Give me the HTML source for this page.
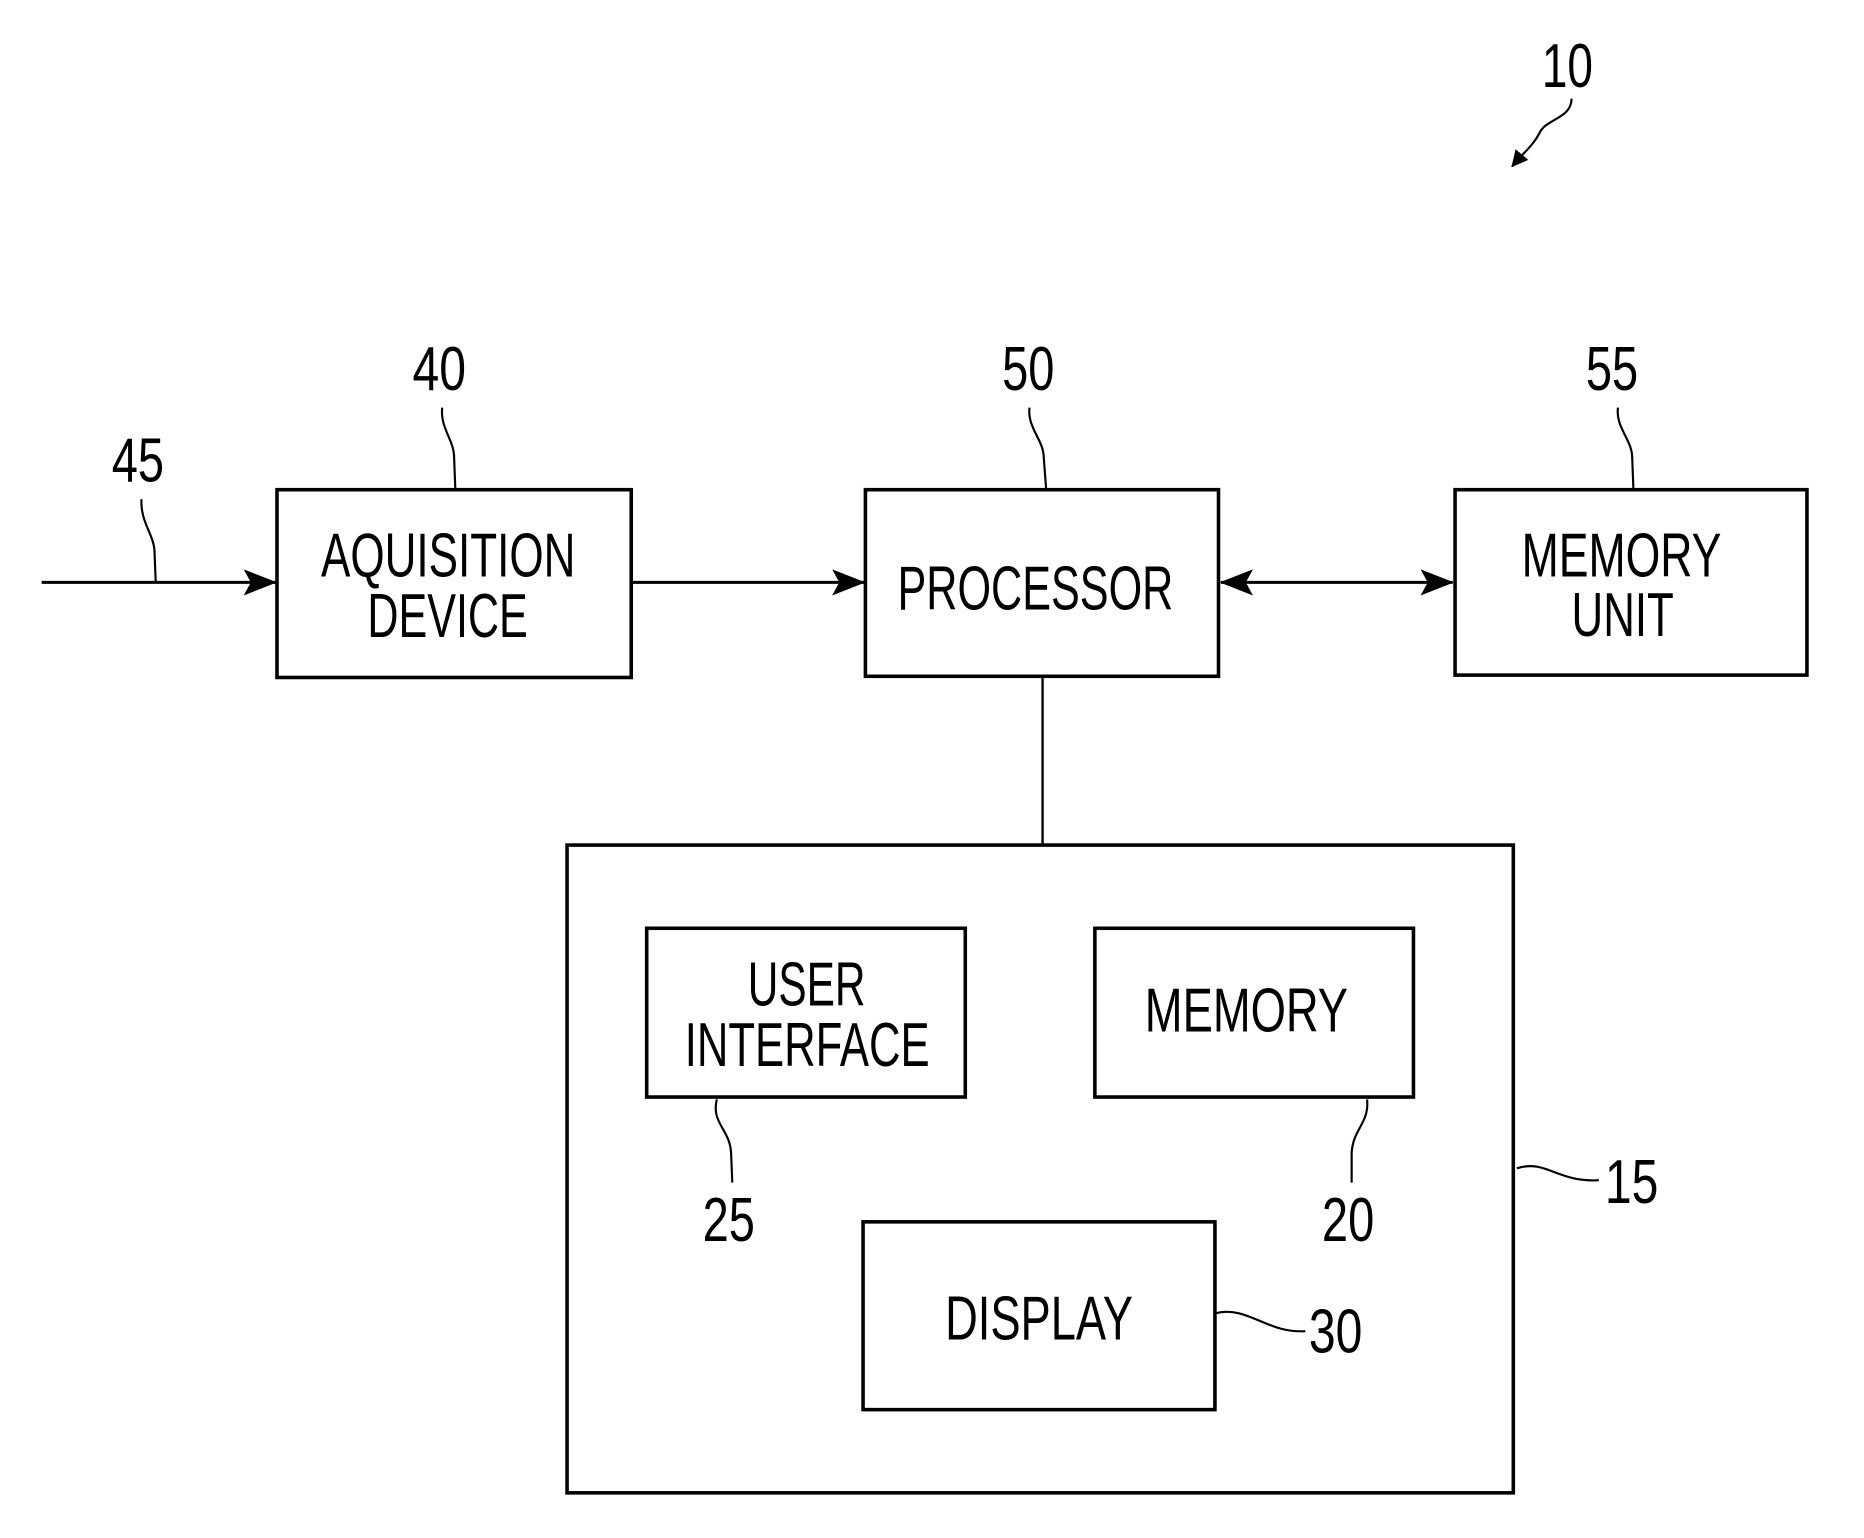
<!DOCTYPE html>
<html><head><meta charset="utf-8"><style>html,body{margin:0;padding:0;background:#fff}svg{display:block}</style></head><body>
<svg width="1864" height="1538" viewBox="0 0 1568 1294" preserveAspectRatio="none" xmlns="http://www.w3.org/2000/svg">
<defs><marker id="a" markerWidth="14" markerHeight="14" refX="13" refY="7" orient="auto" markerUnits="userSpaceOnUse"><path d="M0,0 L14,7 L0,14 Z" fill="#000"/></marker>
<marker id="b" markerWidth="28" markerHeight="22" refX="27" refY="11" orient="auto-start-reverse" markerUnits="userSpaceOnUse"><path d="M0,0 L28,11 L0,22 L6,11 Z" fill="#000"/></marker></defs>
<g fill="none" stroke="#000">
<rect x="233" y="412" width="298" height="158" stroke-width="3"/>
<rect x="728" y="412" width="297" height="157" stroke-width="3"/>
<rect x="1224" y="412" width="296" height="156" stroke-width="3"/>
<rect x="477" y="711" width="796" height="545" stroke-width="3"/>
<rect x="544" y="781" width="268" height="142" stroke-width="3"/>
<rect x="921" y="781" width="268" height="142" stroke-width="3"/>
<rect x="726" y="1028" width="296" height="158" stroke-width="3"/>
<line x1="35" y1="490" x2="232" y2="490" stroke-width="2.5" marker-end="url(#b)"/>
<line x1="531" y1="490" x2="727" y2="490" stroke-width="2.5" marker-end="url(#b)"/>
<line x1="1027" y1="490" x2="1222" y2="490" stroke-width="2.5" marker-start="url(#b)" marker-end="url(#b)"/>
<line x1="877" y1="570" x2="877" y2="711" stroke-width="2"/>
<g stroke-width="1.8">
<path d="M1322,83 C1322,100 1300,100 1295,112 C1290,122 1282,128 1272,140" marker-end="url(#a)"/>
<path d="M372,343 C370,360 382,370 382,385 L383,411"/>
<path d="M866,343 C864,360 878,370 878,385 L880,411"/>
<path d="M1361,343 C1359,360 1373,370 1373,385 L1374,411"/>
<path d="M119,420 C118,440 130,450 130,465 L131,490"/>
<path d="M603,925 C598,945 614,950 615,970 L616,995"/>
<path d="M1150,925 C1152,945 1138,950 1137,970 L1137,995"/>
<path d="M1276,983 C1300,975 1310,995 1345,993"/>
<path d="M1022,1105 C1050,1098 1065,1122 1098,1120"/>
</g></g>
<g font-family="'Liberation Sans Narrow','Liberation Sans',sans-serif" font-size="52" fill="#000">
<text x="270" y="485" textLength="214" lengthAdjust="spacingAndGlyphs">AQUISITION</text>
<text x="309" y="536" textLength="135" lengthAdjust="spacingAndGlyphs">DEVICE</text>
<text x="755" y="513" textLength="232" lengthAdjust="spacingAndGlyphs">PROCESSOR</text>
<text x="1280" y="485" textLength="168" lengthAdjust="spacingAndGlyphs">MEMORY</text>
<text x="1322" y="535" textLength="86" lengthAdjust="spacingAndGlyphs">UNIT</text>
<text x="629" y="846" textLength="99" lengthAdjust="spacingAndGlyphs">USER</text>
<text x="576" y="897" textLength="206" lengthAdjust="spacingAndGlyphs">INTERFACE</text>
<text x="963" y="868" textLength="171" lengthAdjust="spacingAndGlyphs">MEMORY</text>
<text x="795" y="1127" textLength="158" lengthAdjust="spacingAndGlyphs">DISPLAY</text>
<text x="1297" y="73" textLength="43" lengthAdjust="spacingAndGlyphs">10</text>
<text x="347" y="328" textLength="45" lengthAdjust="spacingAndGlyphs">40</text>
<text x="843" y="328" textLength="44" lengthAdjust="spacingAndGlyphs">50</text>
<text x="1334" y="328" textLength="44" lengthAdjust="spacingAndGlyphs">55</text>
<text x="94" y="405" textLength="44" lengthAdjust="spacingAndGlyphs">45</text>
<text x="591" y="1044" textLength="44" lengthAdjust="spacingAndGlyphs">25</text>
<text x="1112" y="1044" textLength="44" lengthAdjust="spacingAndGlyphs">20</text>
<text x="1350" y="1012" textLength="45" lengthAdjust="spacingAndGlyphs">15</text>
<text x="1101" y="1138" textLength="45" lengthAdjust="spacingAndGlyphs">30</text>
</g>
</svg>
</body></html>
